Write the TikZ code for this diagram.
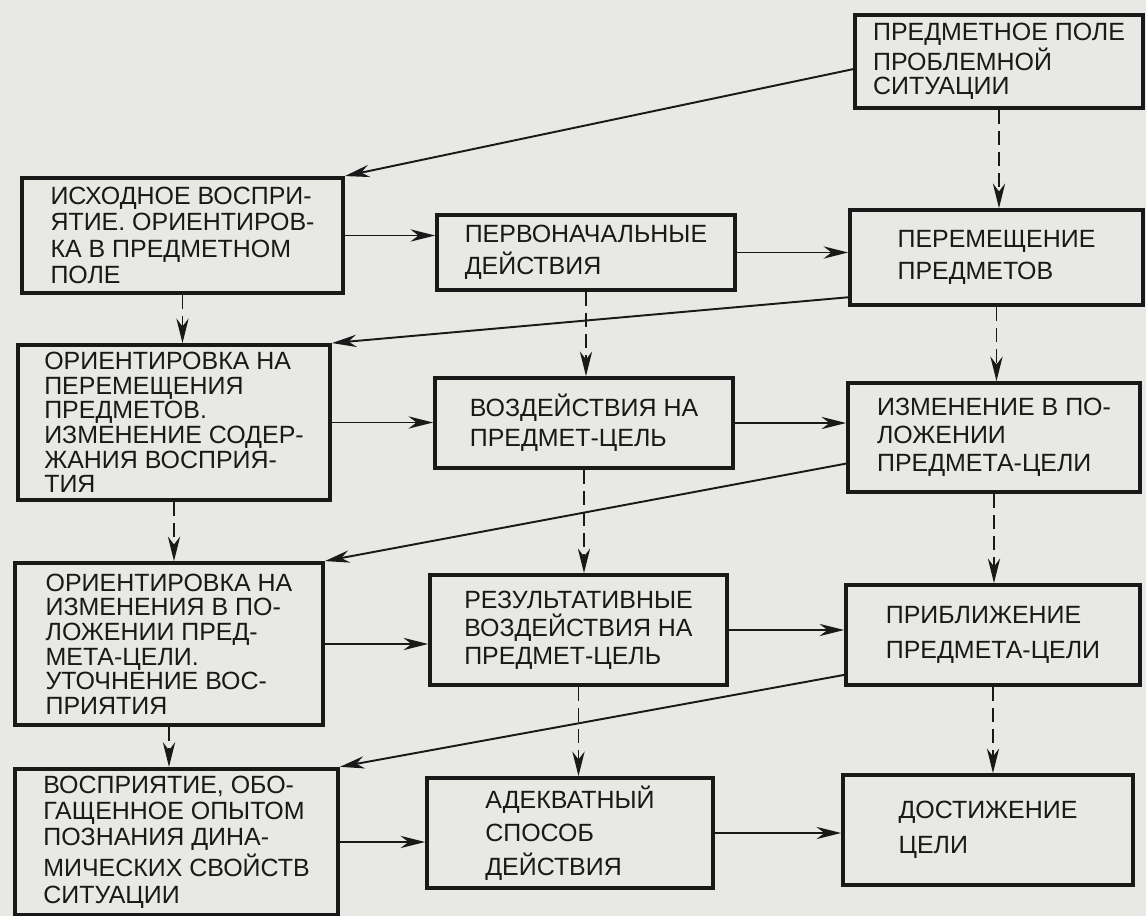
\documentclass[tikz,border=0pt]{standalone}
\usepackage{fontspec}
\setmainfont{Liberation Sans}
\usepackage{xcolor}
\usetikzlibrary{arrows.meta,positioning}
\definecolor{paper}{RGB}{232,232,229}
\definecolor{ink}{RGB}{25,25,25}

\tikzset{
  box/.style={draw=ink, line width=2.2pt, align=left, inner sep=4pt,
    font=\fontsize{14.2}{14}\selectfont, text=ink},
  flow/.style={draw=ink, line width=1.1pt, -{Stealth[length=14pt,width=7pt]}},
  dep/.style={flow, dash pattern=on 8pt off 4pt}
}

\begin{document}
\begin{tikzpicture}[x=0.02cm, y=-0.02cm]
\fill[paper] (0,0) rectangle (1146,916);
\useasboundingbox (0,0) rectangle (1146,916);
% top
\node[box, minimum width=288*0.02cm, minimum height=93*0.02cm] (P0) at (999,61.5)
  {ПРЕДМЕТНОЕ ПОЛЕ\\ПРОБЛЕМНОЙ\\СИТУАЦИИ};
% row 1
\node[box, minimum width=321*0.02cm, minimum height=115*0.02cm] (A1) at (182.5,235.5)
  {ИСХОДНОЕ ВОСПРИ-\\[1pt]ЯТИЕ. ОРИЕНТИРОВ-\\[1pt]КА В ПРЕДМЕТНОМ\\[1pt]ПОЛЕ};
\node[box, minimum width=298*0.02cm, minimum height=75*0.02cm] (B1) at (586,252.5)
  {ПЕРВОНАЧАЛЬНЫЕ\\[4pt]ДЕЙСТВИЯ};
\node[box, minimum width=293*0.02cm, minimum height=95*0.02cm] (C1) at (996.5,257.5)
  {ПЕРЕМЕЩЕНИЕ\\[4pt]ПРЕДМЕТОВ};
% row 2
\node[box, minimum width=312*0.02cm, minimum height=155*0.02cm] (A2) at (174,422.5)
  {ОРИЕНТИРОВКА НА\\ПЕРЕМЕЩЕНИЯ\\ПРЕДМЕТОВ.\\ИЗМЕНЕНИЕ СОДЕР-\\ЖАНИЯ ВОСПРИЯ-\\ТИЯ};
\node[box, minimum width=298*0.02cm, minimum height=90*0.02cm] (B2) at (584,423)
  {ВОЗДЕЙСТВИЯ НА\\[3pt]ПРЕДМЕТ-ЦЕЛЬ};
\node[box, minimum width=292*0.02cm, minimum height=109*0.02cm] (C2) at (994,437.5)
  {ИЗМЕНЕНИЕ В ПО-\\[2pt]ЛОЖЕНИИ\\[2pt]ПРЕДМЕТА-ЦЕЛИ};
% row 3
\node[box, minimum width=308*0.02cm, minimum height=162*0.02cm] (A3) at (169,644)
  {ОРИЕНТИРОВКА НА\\ИЗМЕНЕНИЯ В ПО-\\ЛОЖЕНИИ ПРЕД-\\МЕТА-ЦЕЛИ.\\УТОЧНЕНИЕ ВОС-\\ПРИЯТИЯ};
\node[box, minimum width=297*0.02cm, minimum height=110*0.02cm] (B3) at (578.5,630)
  {РЕЗУЛЬТАТИВНЫЕ\\[2pt]ВОЗДЕЙСТВИЯ НА\\[2pt]ПРЕДМЕТ-ЦЕЛЬ};
\node[box, minimum width=294*0.02cm, minimum height=100*0.02cm] (C3) at (993,635)
  {ПРИБЛИЖЕНИЕ\\[6pt]ПРЕДМЕТА-ЦЕЛИ};
% row 4
\node[box, minimum width=323*0.02cm, minimum height=144*0.02cm] (A4) at (176.5,842)
  {ВОСПРИЯТИЕ, ОБО-\\[1pt]ГАЩЕННОЕ ОПЫТОМ\\[1pt]ПОЗНАНИЯ ДИНА-\\[1pt]МИЧЕСКИХ СВОЙСТВ\\[1pt]СИТУАЦИИ};
\node[box, minimum width=286*0.02cm, minimum height=110*0.02cm] (B4) at (570,833)
  {АДЕКВАТНЫЙ\\[5pt]СПОСОБ\\[5pt]ДЕЙСТВИЯ};
\node[box, minimum width=290*0.02cm, minimum height=110*0.02cm] (C4) at (988,830)
  {ДОСТИЖЕНИЕ\\[6pt]ЦЕЛИ};
% diagonal links
\draw[flow] (P0.183) -- (A1.north east);
\draw[flow] (C1.195) -- (A2.north east);
\draw[flow] (C2.190) -- (A3.north east);
\draw[flow] (C3.195) -- (A4.north east);
% horizontal links
\foreach \r in {1,2,3,4}{
  \draw[flow] (A\r.east) -- (A\r.east -| B\r.west);
  \draw[flow] (B\r.east) -- (B\r.east -| C\r.west);
}
% vertical links
\draw[dep] (P0.south) -- (P0.south |- C1.north);
\foreach \c in {A,B,C}{
  \foreach \r/\s in {1/2,2/3,3/4}
    \draw[dep] (\c\r.south) -- (\c\r.south |- \c\s.north);
}
\end{tikzpicture}
\end{document}
